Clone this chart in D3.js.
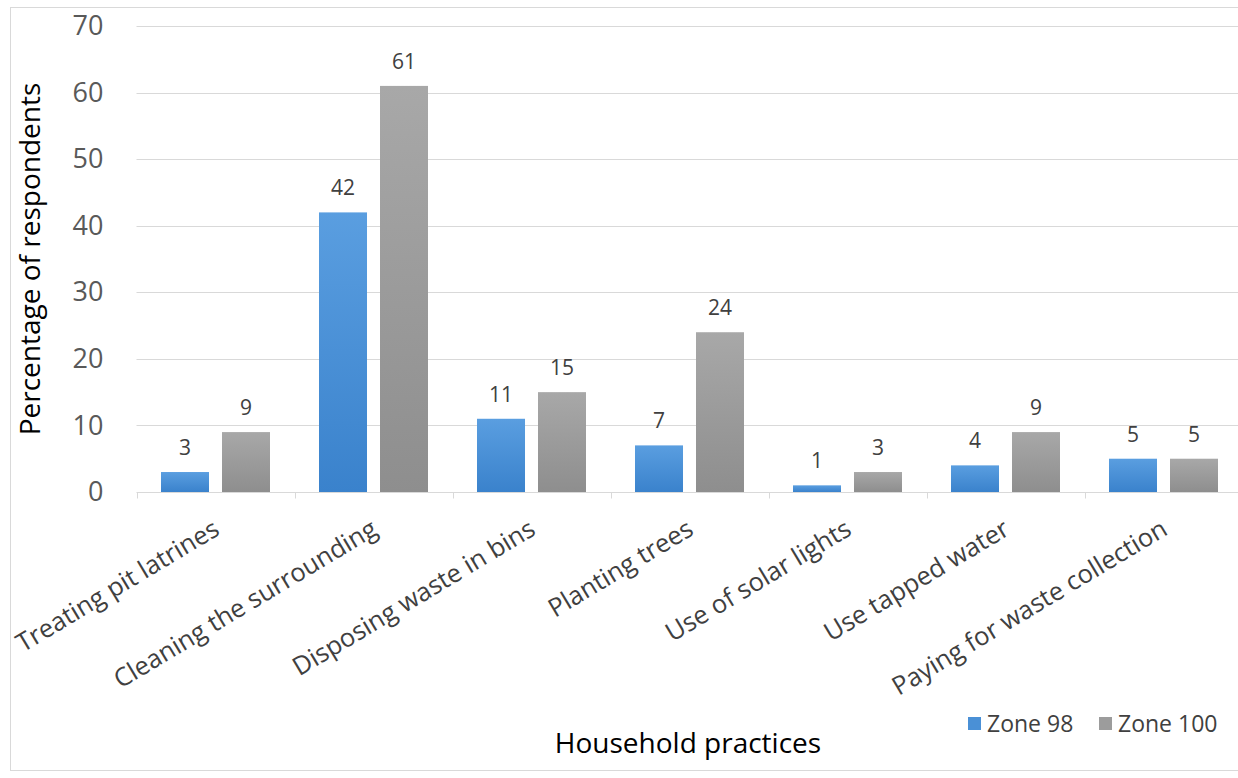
<!DOCTYPE html>
<html>
<head>
<meta charset="utf-8">
<script src="https://cdn.jsdelivr.net/npm/d3@7"></script>
<style>
  html, body { margin: 0; padding: 0; background: #fff; }
  svg { display: block; font-family: "Open Sans", "Noto Sans", sans-serif; }
</style>
</head>
<body>
<div id="chart"></div>
<script>
// Household practices by zone — grouped bar chart
const categories = [
    'Treating pit latrines',
    'Cleaning the surrounding',
    'Disposing waste in bins',
    'Planting trees',
    'Use of solar lights',
    'Use tapped water',
    'Paying for waste collection'
];
const seriesNames = ['Zone 98', 'Zone 100'];
const zone98 = [3, 42, 11, 7, 1, 4, 5];
const zone100 = [9, 61, 15, 24, 3, 9, 5];
const yTicks = [0, 10, 20, 30, 40, 50, 60, 70];

const width = 1238, height = 778;
const plot = { left: 136.5, right: 1242.5, top: 26, bottom: 492 };

const svg = d3.select('#chart').append('svg')
    .attr('width', width)
    .attr('height', height);

// gradients like the Excel fill
const defs = svg.append('defs');
const grads = [
    { id: 'g0', top: '#5a9ee0', bottom: '#3a82cc' },
    { id: 'g1', top: '#a8a8a8', bottom: '#8e8e8e' }
];
grads.forEach(g => {
    const lg = defs.append('linearGradient').attr('id', g.id)
        .attr('x1', 0).attr('y1', 0).attr('x2', 0).attr('y2', 1);
    lg.append('stop').attr('offset', '0%').attr('stop-color', g.top);
    lg.append('stop').attr('offset', '100%').attr('stop-color', g.bottom);
});
const legendColors = ['#4a90d6', '#9c9c9c'];

// chart frame
svg.append('rect')
    .attr('x', 10.5).attr('y', 7.5)
    .attr('width', 1240).attr('height', 763)
    .attr('fill', 'none').attr('stroke', '#d9d9d9');

const x0 = d3.scaleBand().domain(categories).range([plot.left, plot.right]);
const x1 = d3.scaleBand().domain(seriesNames).range([0, x0.bandwidth()])
    .paddingInner(0.213).paddingOuter(0.4016);
const y = d3.scaleLinear().domain([0, 70]).range([plot.bottom, plot.top]);

// gridlines
svg.append('g').selectAll('line').data(yTicks.filter(t => t > 0)).join('line')
    .attr('x1', plot.left).attr('x2', width)
    .attr('y1', d => Math.round(y(d)) + 0.5).attr('y2', d => Math.round(y(d)) + 0.5)
    .attr('stroke', '#d9d9d9').attr('stroke-width', 1);

// y axis labels
const yAxis = svg.append('g')
    .attr('transform', `translate(${plot.left - 33},0)`)
    .call(d3.axisLeft(y).tickValues(yTicks).tickSize(0).tickPadding(0));
yAxis.select('.domain').remove();
yAxis.selectAll('text')
    .attr('fill', '#595959')
    .style('font-size', '27px')
    .style('font-family', '"Open Sans", sans-serif');

// bars
const data = categories.map((c, i) => ({ cat: c, values: [zone98[i], zone100[i]] }));
const groups = svg.append('g').selectAll('g').data(data).join('g')
    .attr('transform', d => `translate(${x0(d.cat)},0)`);

groups.selectAll('rect')
    .data(d => d.values.map((v, k) => ({ key: seriesNames[k], k, v })))
    .join('rect')
    .attr('x', d => x1(d.key))
    .attr('y', d => y(d.v))
    .attr('width', x1.bandwidth())
    .attr('height', d => y(0) - y(d.v))
    .attr('fill', d => `url(#g${d.k})`);

groups.selectAll('text.val')
    .data(d => d.values.map((v, k) => ({ key: seriesNames[k], v })))
    .join('text')
    .attr('class', 'val')
    .attr('x', d => x1(d.key) + x1.bandwidth() / 2)
    .attr('y', d => y(d.v) - 17)
    .attr('text-anchor', 'middle')
    .attr('fill', '#404040')
    .style('font-size', '21px')
    .text(d => d.v);

// x axis line and ticks
const xAxis = svg.append('g').attr('transform', `translate(0,${plot.bottom + 0.5})`);
xAxis.append('line')
    .attr('x1', plot.left).attr('x2', width)
    .attr('stroke', '#d9d9d9');
xAxis.selectAll('line.tick')
    .data(categories.map(c => x0(c)).concat([plot.right]))
    .join('line')
    .attr('class', 'tick')
    .attr('x1', d => Math.round(d) + 0.5).attr('x2', d => Math.round(d) + 0.5)
    .attr('y1', 0).attr('y2', 6)
    .attr('stroke', '#d9d9d9');

// rotated category labels
svg.append('g').selectAll('text').data(categories).join('text')
    .attr('transform', d => `translate(${x0(d) + x0.bandwidth() / 2 + 1},${plot.bottom + 34}) rotate(-31)`)
    .attr('text-anchor', 'end')
    .attr('dy', '0.35em')
    .attr('fill', '#404040')
    .style('font-size', '25.5px')
    .text(d => d);

// axis titles
svg.append('text')
    .attr('transform', `translate(40,259) rotate(-90)`)
    .attr('text-anchor', 'middle')
    .attr('fill', '#000')
    .style('font-size', '28px')
    .text('Percentage of respondents');

svg.append('text')
    .attr('x', 688).attr('y', 753)
    .attr('text-anchor', 'middle')
    .attr('fill', '#000')
    .style('font-size', '28px')
    .text('Household practices');

// legend
const legend = svg.append('g').attr('transform', 'translate(968,717)');
const legendX = [0, 131];
seriesNames.forEach((name, k) => {
    const item = legend.append('g').attr('transform', `translate(${legendX[k]},0)`);
    item.append('rect').attr('width', 13).attr('height', 13).attr('fill', legendColors[k]);
    item.append('text')
        .attr('x', 19).attr('y', 15)
        .attr('fill', '#404040')
        .style('font-size', '23px')
        .text(name);
});
</script>
</body>
</html>
